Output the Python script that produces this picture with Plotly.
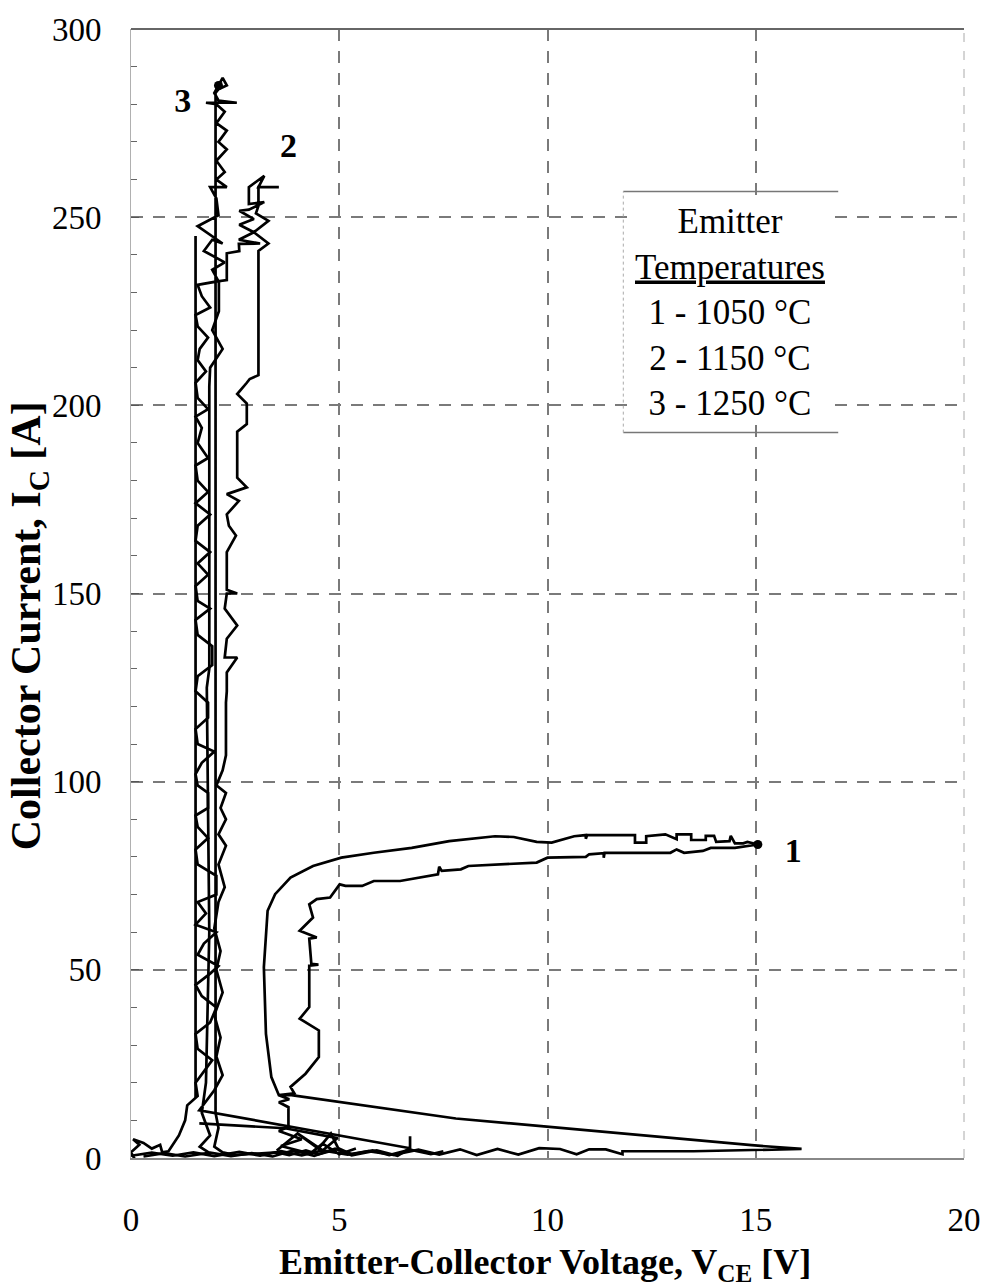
import plotly.graph_objects as go

# ---------------- data ----------------
# Curve 1 : emitter 1050 C
c1_v = [0.0, 0.5, 1.0, 1.5, 2.0, 2.6, 3.1, 3.6, 4.1, 4.6, 5.2, 5.7, 6.3, 6.9, 7.4, 7.9, 8.3, 8.8, 9.3, 9.8,
        10.3, 10.7, 11.0, 11.4, 11.8, 11.8, 13.5, 16.1,
        14.9, 7.8, 3.85, 3.55, 3.37, 3.24, 3.19, 3.28, 3.46, 3.83, 4.37, 5.05, 5.83, 6.74, 7.64, 8.74, 9.19,
        9.74, 10.1, 10.64, 10.92, 10.92, 10.95, 11.37, 12.1, 12.1, 12.37, 12.37, 12.83, 13.1, 13.1, 13.45,
        13.45, 13.8, 13.8, 14.0, 14.05, 14.37, 14.4, 14.5, 14.7, 14.8, 15.05,
        14.5, 13.92, 13.73, 13.28, 13.1, 12.95, 11.37, 11.35, 11.35, 11.0, 10.92, 10.0, 9.74, 8.1, 7.92,
        7.46, 7.4, 7.37, 6.46, 5.83, 5.55, 5.15, 5.01, 4.78, 4.46, 4.28, 4.37, 4.05, 4.46, 4.28, 4.33, 4.5,
        4.28, 4.28, 4.05, 4.51, 4.51, 4.19, 3.83, 3.92, 3.55, 3.8, 3.55, 3.78, 3.78, 3.55, 4.1, 3.6, 4.3,
        4.6, 5.0, 5.4]
c1_i = [0.6, 1.4, 0.6, 1.5, 0.5, 1.6, 0.6, 1.8, 0.7, 2.0, 0.9, 1.8, 0.8, 2.2, 0.9, 2.3, 0.8, 2.4, 0.9, 2.6,
        2.4, 1.0, 2.3, 2.3, 1.0, 1.8, 1.8, 2.4,
        3.4, 10.5, 16.7, 16.7, 21.5, 33.0, 50.7, 65.7, 70.1, 74.5, 77.6, 79.8, 81.1, 82.4, 84.2, 85.5, 85.3,
        84.0, 83.8, 85.5, 85.8, 84.8, 85.8, 85.8, 85.8, 83.8, 83.8, 85.5, 86.0, 84.7, 86.0, 86.0,
        84.5, 84.5, 85.6, 85.6, 84.0, 84.2, 85.6, 83.6, 83.6, 84.0, 83.3,
        82.4, 82.4, 81.6, 81.1, 82.0, 81.1, 81.1, 79.8, 81.0, 80.7, 80.0, 79.8, 78.5, 77.6, 76.7,
        76.3, 77.4, 75.4, 73.6, 73.6, 72.3, 72.3, 72.7, 69.2, 68.8, 67.4, 63.9, 60.4, 58.6, 58.3, 51.6, 51.4,
        51.1, 40.1, 37.0, 33.9, 26.8, 22.4, 18.9, 17.2, 16.7, 15.6, 14.8, 13.5, 8.3, 7.2, 5.0, 3.2, 1.2,
        3.8, 1.0, 2.5]

# Curve 2 : emitter 1150 C
c2_v = [0.3, 0.8, 1.3, 1.9, 2.4, 2.9, 3.4, 3.9, 4.4, 4.9, 5.3, 5.9, 6.4, 6.7, 6.7, 6.7,
        1.64, 1.8, 2.0, 2.2, 2.05, 2.15, 2.0, 2.2, 2.05, 2.15, 2.0, 2.1, 2.25, 2.1, 2.28, 2.1, 2.28, 2.15,
        2.28, 2.05, 2.2, 2.28, 2.28, 2.3, 2.3, 2.55, 2.25, 2.3, 2.55, 2.25, 2.3, 2.55, 2.3, 2.3, 2.52, 2.35,
        2.3, 2.59, 2.3, 2.78, 2.55, 2.55, 2.78, 2.78, 2.55, 2.78, 2.85, 3.06, 3.06, 3.3, 2.95, 3.3, 3.0,
        3.06, 3.06, 3.55, 3.06, 3.2,
        2.83, 2.83, 3.2, 2.83, 2.6, 2.95, 2.6, 2.95, 2.59, 3.1, 2.59, 2.6, 2.3, 2.3, 2.11, 2.11, 1.95, 2.2,
        1.9, 1.88, 1.88, 1.82, 1.88, 1.8, 1.7, 1.9, 1.65, 1.9]
c2_i = [0.4, 1.3, 0.4, 1.4, 0.5, 1.3, 0.4, 2.0, 0.6, 2.5, 0.7, 2.0, 0.6, 2.6, 5.8, 2.6,
        12.7, 15.0, 18.0, 22.0, 27.0, 32.0, 38.0, 44.0, 50.0, 55.0, 61.0, 68.0, 72.0, 78.0, 83.0, 86.0, 90.0,
        93.0, 97.0, 99.0, 103.0, 107.0, 121.0, 124.0, 129.0, 133.0, 133.0, 138.0, 141.5, 146.0, 150.0, 150.0,
        151.0, 161.0, 165.4, 168.0, 171.0, 174.6, 176.4, 178.2, 180.8, 193.0, 195.0, 200.5, 203.0, 206.0,
        207.0, 208.0, 241.0, 243.0, 246.0, 249.0, 251.0, 253.0, 258.0, 258.0, 258.0, 261.0,
        258.0, 253.5, 254.0, 252.0, 251.7, 249.5, 248.0, 246.0, 244.0, 243.0, 242.9, 241.0, 240.4, 233.3,
        233.0, 225.0, 220.0, 215.0, 210.0, 205.0, 130.0, 125.0, 60.0, 20.0, 12.0, 6.0, 3.0, 1.2]

# Curve 3 : emitter 1250 C
c3_v = [-0.1, 0.1, 0.0, 0.2, 0.05, 0.3, 0.5, 0.7, 0.75, 0.9, 1.15, 1.3, 1.35, 1.6, 1.55, 1.75, 1.95, 1.6,
        1.55, 1.9, 2.05, 1.7, 1.55, 1.9, 2.1, 1.6, 1.75, 2.05, 1.55, 1.8, 1.6, 2.05, 2.05, 1.6, 1.55, 1.85,
        1.6, 1.55, 1.85, 1.85, 1.6, 1.55, 1.7, 2.0, 1.6, 1.55, 1.85, 1.85, 1.55, 1.6, 1.95, 1.95, 1.6, 1.55,
        1.9, 1.6, 1.55, 1.85, 1.6, 1.9, 1.55, 1.6, 1.9, 1.55, 1.85, 1.6, 1.55, 1.85, 1.6, 1.7, 1.55, 1.85,
        1.6, 1.55, 1.8, 1.6, 1.65, 1.85, 1.6, 1.55, 1.9, 1.7, 1.6, 2.1, 1.95, 2.25, 1.75, 1.95, 2.2, 1.6,
        2.1, 2.05, 1.9, 2.3, 2.05, 2.25, 2.05, 2.3, 2.1, 2.3, 2.05, 2.25, 2.05, 1.8, 2.54, 2.1, 2.0, 2.2,
        2.3, 2.1,
        2.03, 2.03, 2.1, 2.0, 2.2, 2.5, 3.0, 3.5, 3.8, 4.2, 4.5, 5.0, 5.3, 5.8, 6.2, 6.7, 7.2, 7.5,
        None, 1.64, 3.7, 4.96, 4.6, 4.0, 3.5, 4.0, 4.5, 4.8, 5.0,
        None, 1.55, 1.55]
c3_i = [-1.2, -0.5, 1.5, 3.5, 5.0, 4.0, 2.5, 3.5, 1.5, 1.8, 6.0, 10.0, 14.0, 16.5, 20.0, 23.0, 26.0, 29.0,
        33.0, 36.0, 40.0, 43.0, 46.0, 49.0, 51.0, 54.0, 57.0, 60.0, 62.0, 65.0, 68.0, 70.0, 75.0, 78.0, 82.0,
        85.0, 88.0, 91.0, 93.0, 97.0, 99.0, 102.0, 105.0, 108.0, 110.0, 114.0, 117.0, 121.0, 124.0, 128.0,
        131.0, 136.0, 139.0, 143.0, 146.0, 148.0, 152.0, 155.0, 158.0, 161.0, 164.0, 168.0, 171.0, 174.0,
        177.0, 180.0, 184.0, 186.0, 190.0, 194.0, 197.0, 199.0, 202.0, 206.0, 209.0, 212.0, 215.0, 218.0,
        221.0, 224.0, 226.0, 229.0, 232.0, 233.0, 236.0, 238.0, 241.0, 244.0, 243.0, 247.6, 250.5, 255.0,
        258.0, 258.0, 260.0, 262.0, 265.0, 268.0, 270.0, 273.0, 275.0, 278.0, 280.0, 280.4, 280.4, 281.0,
        283.0, 287.0, 285.0, 284.0,
        283.0, 12.0, 8.0, 3.0, 1.5, 0.8, 1.2, 1.5, 0.8, 2.0, 1.0, 2.5, 1.0, 2.0, 0.8, 2.2, 1.0, 1.8,
        None, 9.2, 7.9, 5.3, 2.0, 6.5, 2.0, 6.5, 2.5, 6.5, 2.0,
        None, 16.0, 245.0]

# curve end points and curve numbers
end_v = [15.05, 2.1]
end_i = [83.3, 285.0]
label_text = ["1", "2", "3"]
label_v = [15.9, 3.78, 1.24]
label_i = [80.8, 268.3, 280.2]

legend_lines = ["Emitter", "<u>Temperatures</u>", "1 - 1050 °C", "2 - 1150 °C", "3 - 1250 °C"]

x_ticks = [0, 5, 10, 15, 20]
y_ticks = [0, 50, 100, 150, 200, 250, 300]

# ---------------- figure ----------------
SERIF = "Liberation Serif, Times New Roman, serif"
LW = 2.7

fig = go.Figure()
for v, i in [(c1_v, c1_i), (c2_v, c2_i), (c3_v, c3_i)]:
    fig.add_trace(go.Scatter(x=v, y=i, mode="lines",
                             line=dict(color="black", width=LW),
                             connectgaps=False, showlegend=False, hoverinfo="skip"))

fig.add_trace(go.Scatter(x=end_v, y=end_i, mode="markers",
                         marker=dict(color="black", size=9), showlegend=False,
                         hoverinfo="skip"))
fig.add_trace(go.Scatter(x=label_v, y=label_i, mode="text", text=["<b>%s</b>" % t for t in label_text],
                         textfont=dict(family=SERIF, size=34, color="black"),
                         showlegend=False, hoverinfo="skip", cliponaxis=False))

GRID = "#7a7a7a"
fig.update_xaxes(range=[0, 20], tickvals=x_ticks, ticktext=[str(t) for t in x_ticks],
                 showgrid=True, gridcolor=GRID, gridwidth=1.5, griddash="12px,10px",
                 zeroline=False, showline=True, linecolor="#888888", linewidth=1.5,
                 ticks="", ticklabelstandoff=32,
                 tickfont=dict(family=SERIF, size=33, color="black"))
fig.update_yaxes(range=[0, 300], tickvals=y_ticks, ticktext=[str(t) for t in y_ticks],
                 showgrid=True, gridcolor=GRID, gridwidth=1.5, griddash="12px,10px",
                 zeroline=False, showline=True, linecolor="#b0b0b0", linewidth=1,
                 ticks="inside", ticklen=8, tickcolor="#555555",
                 minor=dict(dtick=10, ticks="inside", ticklen=6, tickcolor="#666666", showgrid=False),
                 ticklabelstandoff=22,
                 tickfont=dict(family=SERIF, size=33, color="black"))

# top border (solid), right edge (dashed) and legend box borders
fig.add_shape(type="line", xref="paper", yref="paper", x0=0, x1=1, y0=1, y1=1,
              line=dict(color="#666666", width=2))
fig.add_shape(type="line", xref="paper", yref="paper", x0=1, x1=1, y0=0, y1=1,
              line=dict(color="#aaaaaa", width=1, dash="dash"))
fig.add_shape(type="line", xref="paper", yref="paper", x0=0.591, x1=0.849, y0=0.856, y1=0.856,
              line=dict(color="#777777", width=1.5))
fig.add_shape(type="line", xref="paper", yref="paper", x0=0.591, x1=0.849, y0=0.6425, y1=0.6425,
              line=dict(color="#777777", width=1.5))

fig.add_annotation(xref="paper", yref="paper", x=0.7194, y=0.7493, showarrow=False,
                   xanchor="center", yanchor="middle",
                   text="<br>".join(legend_lines), align="center",
                   font=dict(family=SERIF, size=35, color="black"),
                   bgcolor="white")
fig.add_shape(type="line", xref="paper", yref="paper", x0=0.591, x1=0.591, y0=0.6425, y1=0.856,
              line=dict(color="#aaaaaa", width=1, dash="dot"))

# axis titles
fig.add_annotation(xref="paper", yref="paper", x=0.497, y=1.0, yshift=-(1260 - 25), showarrow=False,
                   text="<b>Emitter-Collector Voltage, V<sub>CE</sub> [V]</b>",
                   font=dict(family=SERIF, size=36, color="black"), yanchor="middle", xanchor="center")
fig.add_annotation(xref="paper", yref="paper", x=0.0, xshift=-(131 - 29), y=0.471, showarrow=False,
                   text="<b>Collector Current, I<sub>C</sub> [A]</b>", textangle=-90,
                   font=dict(family=SERIF, size=42, color="black"), xanchor="center", yanchor="middle")

fig.update_layout(width=993, height=1287, margin=dict(l=131, r=21, t=25, b=129),
                  plot_bgcolor="white", paper_bgcolor="white")

fig.write_html("out.html")
